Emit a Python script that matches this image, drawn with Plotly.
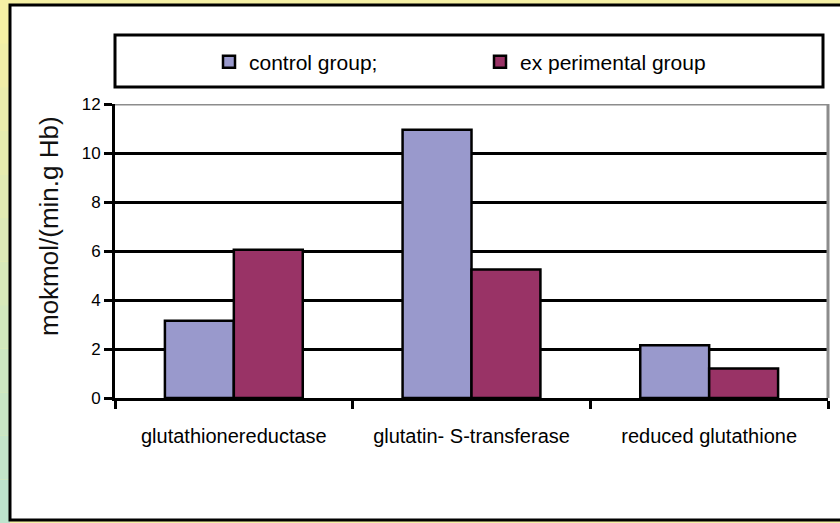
import plotly.graph_objects as go

categories = ["glutathionereductase", "glutatin- S-transferase", "reduced glutathione"]
control_values = [3.15, 10.95, 2.15]
experimental_values = [6.05, 5.25, 1.2]
series_names = ["control group;", "ex perimental group"]
y_ticks = [0, 2, 4, 6, 8, 10, 12]
y_title = "mokmol/(min.g Hb)"

FONT = "Liberation Sans, Arial, sans-serif"

W, H = 840, 523
L, R, T, B = 115, 12, 104, 125
pw, ph = W - L - R, H - T - B

def px(x):
    return (x - L) / pw

def py(y):
    return (H - B - y) / ph

fig = go.Figure()
fig.add_trace(go.Bar(x=categories, y=control_values, name=series_names[0],
                     marker=dict(color="#9999cc", line=dict(color="black", width=2.5))))
fig.add_trace(go.Bar(x=categories, y=experimental_values, name=series_names[1],
                     marker=dict(color="#993366", line=dict(color="black", width=2.5))))

shapes = []
# left gradient strip (yellow -> pale green)
n = 12
c0 = (245, 240, 165)
c1 = (190, 228, 205)
for i in range(n):
    t = i / (n - 1)
    col = tuple(int(c0[k] + (c1[k] - c0[k]) * t) for k in range(3))
    shapes.append(dict(type="rect", xref="paper", yref="paper", layer="below",
                       x0=px(0), x1=px(10), y0=py(H * (i + 1) / n), y1=py(H * i / n),
                       fillcolor="rgb(%d,%d,%d)" % col, line=dict(width=0)))
# outer white frame
shapes.append(dict(type="rect", xref="paper", yref="paper", layer="below",
                   x0=px(10), x1=px(850), y0=py(520), y1=py(5),
                   fillcolor="white", line=dict(color="black", width=3)))
# legend box
shapes.append(dict(type="rect", xref="paper", yref="paper", layer="below",
                   x0=px(115), x1=px(823), y0=py(87), y1=py(35),
                   fillcolor="white", line=dict(color="black", width=3)))
# plot area top & right border (grey)
shapes.append(dict(type="line", xref="paper", yref="y", layer="above",
                   x0=0, x1=1, y0=12, y1=12, line=dict(color="#8c8c8c", width=3)))
shapes.append(dict(type="line", xref="paper", yref="y", layer="above",
                   x0=1, x1=1, y0=0, y1=12, line=dict(color="#8c8c8c", width=3)))

fig.update_layout(
    width=W, height=H,
    margin=dict(l=L, r=R, t=T, b=B, autoexpand=False),
    paper_bgcolor="#f5f0a5",
    plot_bgcolor="white",
    barmode="group",
    bargap=0.42,
    bargroupgap=0,
    shapes=shapes,
    showlegend=True,
    legend=dict(orientation="h", x=px(209), xanchor="left", y=py(62), yanchor="middle",
                bgcolor="rgba(0,0,0,0)", borderwidth=0,
                font=dict(family=FONT, size=21, color="black"),
                itemwidth=30, entrywidth=226, entrywidthmode="pixels",
                traceorder="normal"),
    xaxis=dict(range=[-0.5, 2.5], showline=True, linecolor="black", linewidth=3,
               ticks="outside", tickson="boundaries", ticklen=8, tickwidth=3, tickcolor="black",
               ticklabelstandoff=18, tickangle=0,
               tickfont=dict(family=FONT, size=20, color="black"), showgrid=False),
    yaxis=dict(range=[0, 12], tickvals=y_ticks, showline=True, linecolor="black", linewidth=3,
               ticks="outside", ticklen=8, tickwidth=3, tickcolor="black",
               showgrid=True, gridcolor="black", gridwidth=3, zeroline=False,
               tickfont=dict(family=FONT, size=17, color="black")),
    annotations=[dict(text=y_title, xref="paper", yref="paper", x=px(49), y=py(226),
                      xanchor="center", yanchor="middle", textangle=-90, showarrow=False,
                      font=dict(family=FONT, size=26, color="#111111"))],
)

fig.write_html("out.html", config={"displayModeBar": False},
               post_script="document.body.style.margin='0';document.body.style.overflow='hidden';")
